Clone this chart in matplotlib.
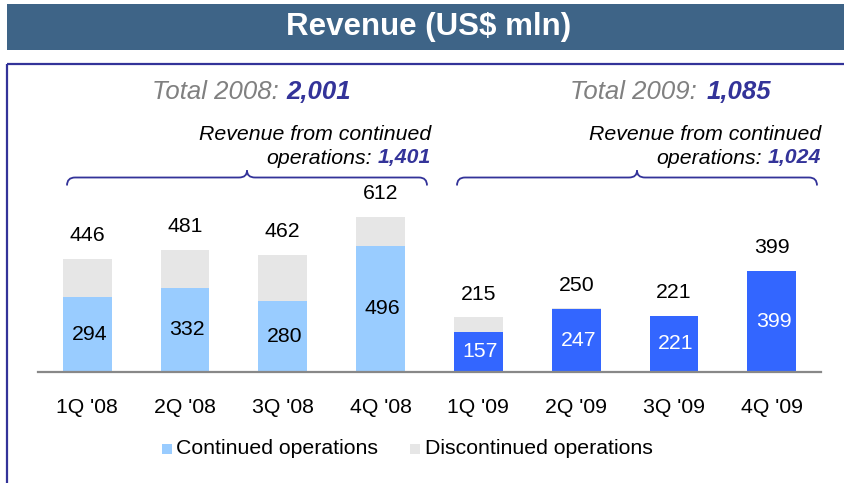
import numpy as np
import matplotlib
matplotlib.use("Agg")
import matplotlib.pyplot as plt
from matplotlib.patches import Rectangle
from matplotlib.path import Path
from matplotlib.patches import PathPatch

plt.rcParams['font.family'] = ['Liberation Sans', 'DejaVu Sans']

# data
quarters = ["1Q '08", "2Q '08", "3Q '08", "4Q '08", "1Q '09", "2Q '09", "3Q '09", "4Q '09"]
total = np.array([446, 481, 462, 612, 215, 250, 221, 399])
continued = np.array([294, 332, 280, 496, 157, 247, 221, 399])
discontinued = total - continued
year_total = ["2,001", "1,085"]
year_continued = ["1,401", "1,024"]

c_2008 = "#99CCFF"
c_2009 = "#3366FF"
c_disc = "#E6E6E6"
navy = "#333399"

W, H = 844, 483
fig = plt.figure(figsize=(W / 100, H / 100), dpi=100)

# overlay axes in pixel coords for frame / title / annotations
ov = fig.add_axes([0, 0, 1, 1])
ov.set_xlim(0, W)
ov.set_ylim(H, 0)
ov.axis('off')

ov.add_patch(Rectangle((7, 4), W, 46, facecolor="#3E6487", edgecolor="none"))
ov.text(429, 27, "Revenue (US$ mln)", color="white", fontsize=22.5, fontweight="bold",
        ha="center", va="center")
ov.add_patch(Rectangle((7, 64), W + 10, H, facecolor="none", edgecolor=navy, lw=1.6))

# bars
ax = fig.add_axes([38.3 / W, (H - 371.7) / H, 782.4 / W, 291.5 / H])
x = np.arange(len(quarters))
cols = [c_2008] * 4 + [c_2009] * 4
ax.bar(x, continued, width=0.5, color=cols, zorder=2)
ax.bar(x, discontinued, width=0.5, bottom=continued, color=c_disc, zorder=2)
ax.set_xlim(-0.5, 7.5)
ax.set_ylim(0, 1150)
for s in ["top", "left", "right"]:
    ax.spines[s].set_visible(False)
ax.spines["bottom"].set_color("#888888")
ax.spines["bottom"].set_linewidth(1.6)
ax.set_yticks([])
ax.set_xticks(x)
ax.set_xticklabels(quarters, fontsize=15.3)
ax.tick_params(axis="x", length=0, pad=19)
ax.patch.set_visible(False)

for i in range(len(x)):
    ax.annotate(str(total[i]), (x[i], total[i]), xytext=(0, 16.5), textcoords="offset points",
                ha="center", va="center", fontsize=15.3, color="black")
    ax.annotate(str(continued[i]), (x[i], continued[i] / 2), xytext=(1.5, 0), textcoords="offset points",
                ha="center", va="center", fontsize=15.3,
                color="black" if i < 4 else "white")


def brace(x0, x1, y, col):
    xm = (x0 + x1) / 2
    verts = [(x0, y + 8), (x0, y), (x0 + 8, y),
             (xm - 8, y), (xm, y), (xm, y - 7),
             (xm, y), (xm + 8, y),
             (x1 - 8, y), (x1, y), (x1, y + 8)]
    codes = [Path.MOVETO, Path.CURVE3, Path.CURVE3,
             Path.LINETO, Path.CURVE3, Path.CURVE3,
             Path.CURVE3, Path.CURVE3,
             Path.LINETO, Path.CURVE3, Path.CURVE3]
    ov.add_patch(PathPatch(Path(verts, codes), facecolor="none", edgecolor=col, lw=1.3))


brace(67, 427, 177.5, navy)
brace(457, 817, 177.5, navy)

# year totals
for yr, xs, xn, val in [("2008", 279, 286, year_total[0]), ("2009", 697, 707, year_total[1])]:
    ov.text(xs, 92, "Total %s:" % yr, fontsize=18.5, style="italic", color="#808080",
            ha="right", va="center")
    ov.text(xn, 92, val, fontsize=18.5, style="italic", fontweight="bold", color=navy,
            ha="left", va="center")

fig.canvas.draw()
rend = fig.canvas.get_renderer()
for xr, val in [(431, year_continued[0]), (821, year_continued[1])]:
    ov.text(xr, 135, "Revenue from continued", fontsize=15.3, style="italic", color="black",
            ha="right", va="center")
    t = ov.text(xr, 158, val, fontsize=15.3, style="italic", fontweight="bold", color=navy,
                ha="right", va="center")
    w = t.get_window_extent(rend).width
    ov.text(xr - w - 6, 158, "operations:", fontsize=15.3, style="italic", color="black",
            ha="right", va="center")

# legend
ov.add_patch(Rectangle((162, 444), 10, 10, facecolor=c_2008, edgecolor="none"))
ov.text(176, 449, "Continued operations", fontsize=15.3, ha="left", va="center")
ov.add_patch(Rectangle((410, 444), 10, 10, facecolor=c_disc, edgecolor="none"))
ov.text(425, 449, "Discontinued operations", fontsize=15.3, ha="left", va="center")

fig.savefig("out.png", dpi=100)
